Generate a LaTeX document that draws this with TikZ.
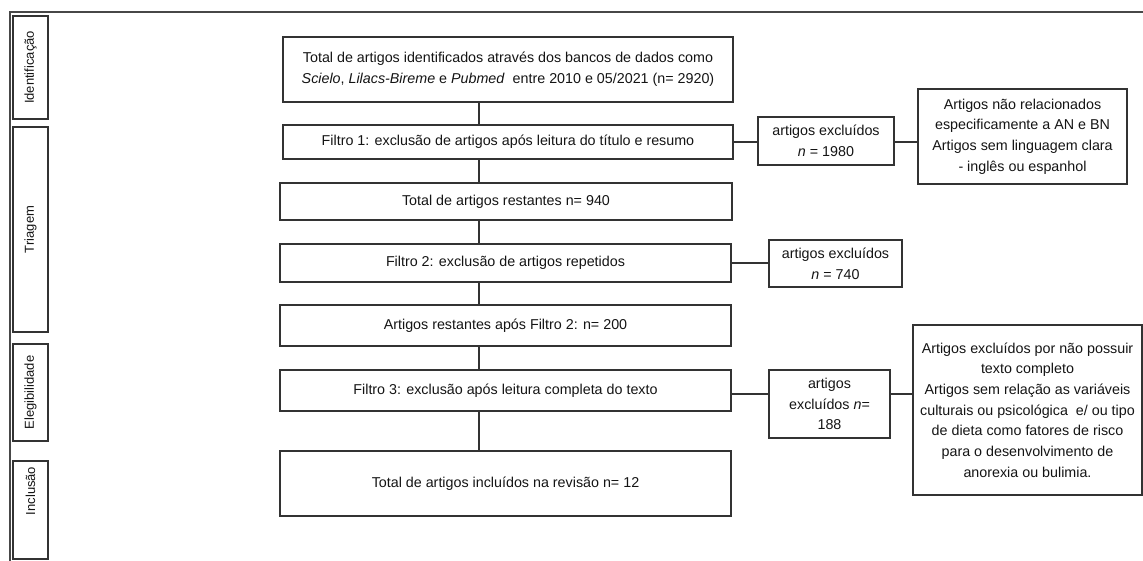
\documentclass[tikz,border=0pt]{standalone}
\usepackage{fontspec}
\setmainfont{Liberation Sans}
\begin{document}
\begin{tikzpicture}[x=1pt,y=-1pt,
  line width=1.1pt,
  ink/.style={draw=black!80},
  box/.style={ink, rectangle, inner sep=0pt, align=center, text=black!92,
    font=\fontsize{14.3}{20.7}\selectfont},
  sidebox/.style={ink, rectangle, inner sep=0pt, minimum width=35},
  sidetext/.style={rotate=90, inner sep=0pt, text=black!92,
    font=\fontsize{13}{16}\selectfont},
  link/.style={ink}]
\useasboundingbox (0,0) rectangle (1143,561);

% outer frame (top and left edges)
\draw[draw=black!72, line width=1.4pt] (1146,12) -- (10,12) -- (10,565);

% phase labels on the left
\node[sidebox, minimum height=103] (s1) at (30.5,67.5) {};
\node[sidetext] (s1t) at (s1.center) {Identificação};
\node[sidebox, minimum height=205] (s2) at (30.5,229.5) {};
\node[sidetext] (s2t) at (s2.center) {Triagem};
\node[sidebox, minimum height=97] (s3) at (30.5,392.5) {};
\node[sidetext] (s3t) at (s3.center) {Elegibilidade};
\node[sidebox, minimum height=98] (s4) at (30.5,510) {};
\node[sidetext] (s4t) at (30.5,491) {Inclusão};

% main flow
\node[box, minimum width=450, minimum height=65] (b1) at (508,69.5)
  {Total de artigos identificados através dos bancos de dados como\\
   \textit{Scielo}, \textit{Lilacs-Bireme} e \textit{Pubmed}\ \ entre 2010 e 05/2021 (n= 2920)};
\node[box, minimum width=450, minimum height=34] (b2) at (508,142)
  {Filtro 1: exclusão de artigos após leitura do título e resumo};
\node[box, minimum width=452, minimum height=37] (b3) at (506,201.5)
  {Total de artigos restantes n= 940};
\node[box, minimum width=451, minimum height=38] (b4) at (505.5,263)
  {Filtro 2: exclusão de artigos repetidos};
\node[box, minimum width=451, minimum height=41] (b5) at (505.5,325.5)
  {Artigos restantes após Filtro 2: n= 200};
\node[box, minimum width=451, minimum height=41] (b6) at (505.5,390.5)
  {Filtro 3: exclusão após leitura completa do texto};
\node[box, minimum width=451, minimum height=65] (b7) at (505.5,483.5)
  {Total de artigos incluídos na revisão n= 12};

% excluded counts
\node[box, minimum width=136, minimum height=48] (e1) at (826,141)
  {artigos excluídos\\ \textit{n} = 1980};
\node[box, minimum width=133, minimum height=47] (e2) at (835.5,263.5)
  {artigos excluídos\\ \textit{n} = 740};
\node[box, minimum width=121, minimum height=68] (e3) at (829.5,404)
  {artigos\\ excluídos \textit{n}=\\ 188};

% exclusion reasons
\node[box, minimum width=209, minimum height=95] (r1) at (1022.5,136.5)
  {Artigos não relacionados\\ especificamente a AN e BN\\ Artigos sem linguagem clara\\ - inglês ou espanhol};
\node[box, minimum width=229, minimum height=170] (r2) at (1027.5,410)
  {Artigos excluídos por não possuir\\ texto completo\\ Artigos sem relação as variáveis\\
   culturais ou psicológica\ \ e/ ou tipo\\ de dieta como fatores de risco\\
   para o desenvolvimento de\\ anorexia ou bulimia.};

% vertical spine
\coordinate (spine) at (479,0);
\draw[link] (b1.south -| spine) -- (b2.north -| spine);
\draw[link] (b2.south -| spine) -- (b3.north -| spine);
\draw[link] (b3.south -| spine) -- (b4.north -| spine);
\draw[link] (b4.south -| spine) -- (b5.north -| spine);
\draw[link] (b5.south -| spine) -- (b6.north -| spine);
\draw[link] (b6.south -| spine) -- (b7.north -| spine);

% side branches
\draw[link] (b2.east) -- (b2.east -| e1.west);
\draw[link] (b2.east -| e1.east) -- (b2.east -| r1.west);
\draw[link] (b4.east) -- (b4.east -| e2.west);
\coordinate (c3) at (0,394);
\draw[link] (b6.east |- c3) -- (e3.west |- c3);
\draw[link] (e3.east |- c3) -- (r2.west |- c3);
\end{tikzpicture}
\end{document}
